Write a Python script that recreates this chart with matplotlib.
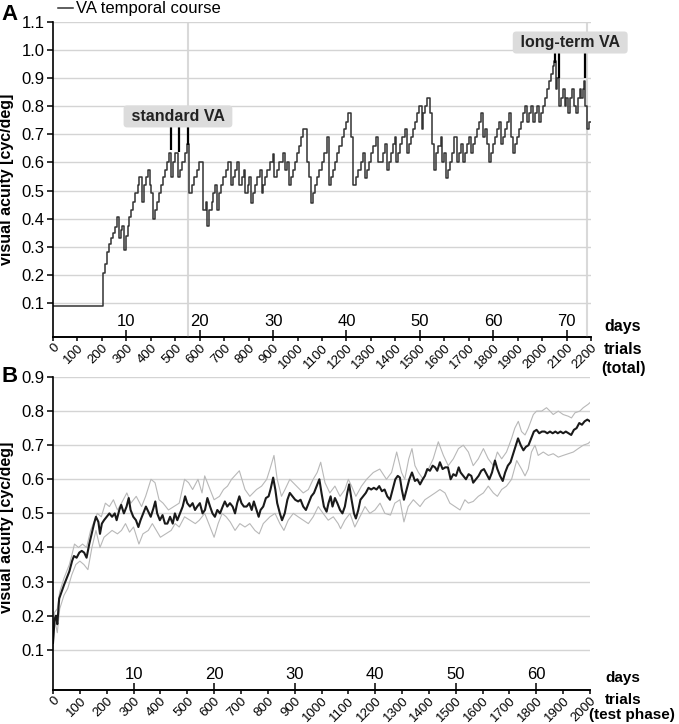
import matplotlib
matplotlib.use("Agg")
import matplotlib.pyplot as plt
from matplotlib.lines import Line2D

plt.rcParams['font.family'] = ['Liberation Sans', 'DejaVu Sans']

# ---- panel A: single animal, staircase VA over all trials ----
course_trials = [0, 203, 213, 220, 228, 236, 244, 254, 262, 270, 277, 284, 292, 299, 306, 312,
                 320, 329, 337, 346, 353, 364, 372, 382, 390, 397, 401, 408, 419, 427, 435, 443,
                 451, 460, 466, 473, 484, 491, 500, 511, 519, 528, 539, 547, 558, 569, 577, 588,
                 597, 612, 624, 631, 639, 649, 656, 664, 672, 680, 688, 697, 706, 714, 728, 735,
                 738, 744, 754, 762, 772, 779, 787, 796, 802, 811, 819, 828, 836, 847, 853, 860,
                 868, 877, 888, 898, 905, 915, 923, 939, 949, 956, 964, 972, 980, 990, 997, 1006,
                 1014, 1024, 1037, 1048, 1057, 1065, 1073, 1081, 1089, 1099, 1108, 1119, 1127, 1136,
                 1144, 1152, 1160, 1171, 1181, 1190, 1198, 1208, 1217, 1226, 1237, 1249, 1258, 1266,
                 1275, 1286, 1294, 1302, 1310, 1321, 1329, 1348, 1356, 1365, 1373, 1381, 1389, 1397,
                 1403, 1411, 1419, 1427, 1438, 1446, 1455, 1463, 1474, 1482, 1490, 1498, 1508, 1515,
                 1523, 1531, 1542, 1549, 1558, 1566, 1576, 1585, 1592, 1600, 1607, 1615, 1624, 1632,
                 1640, 1651, 1659, 1667, 1675, 1684, 1692, 1700, 1708, 1716, 1724, 1733, 1741, 1749,
                 1757, 1765, 1776, 1784, 1793, 1801, 1809, 1817, 1825, 1831, 1839, 1847, 1855, 1863,
                 1872, 1880, 1891, 1899, 1907, 1915, 1923, 1932, 1940, 1948, 1956, 1964, 1973, 1981,
                 1986, 1994, 2002, 2011, 2019, 2027, 2035, 2043, 2050, 2057, 2062, 2068, 2076, 2084,
                 2092, 2098, 2106, 2114, 2122, 2131, 2139, 2147, 2155, 2161, 2166, 2172, 2177, 2182,
                 2193, 2200]
course_va = [0.088, 0.205, 0.24, 0.28, 0.31, 0.33, 0.35, 0.37, 0.405, 0.33, 0.36, 0.375, 0.29, 0.34, 0.375, 0.405,
             0.43, 0.46, 0.49, 0.52, 0.55, 0.46, 0.52, 0.55, 0.575, 0.52, 0.49, 0.40, 0.43, 0.46, 0.49, 0.52,
             0.55, 0.575, 0.60, 0.635, 0.55, 0.60, 0.635, 0.55, 0.575, 0.60, 0.635, 0.665, 0.49, 0.52, 0.55, 0.575,
             0.60, 0.43, 0.46, 0.375, 0.43, 0.46, 0.49, 0.52, 0.43, 0.49, 0.52, 0.55, 0.575, 0.60, 0.52, 0.55,
             0.55, 0.575, 0.60, 0.52, 0.55, 0.575, 0.49, 0.52, 0.55, 0.455, 0.49, 0.52, 0.55, 0.575, 0.49, 0.52,
             0.55, 0.575, 0.60, 0.63, 0.55, 0.575, 0.60, 0.635, 0.575, 0.60, 0.52, 0.55, 0.575, 0.60, 0.635, 0.66,
             0.69, 0.72, 0.60, 0.55, 0.455, 0.49, 0.52, 0.55, 0.575, 0.60, 0.635, 0.69, 0.52, 0.55,
             0.575, 0.60, 0.635, 0.66, 0.69, 0.72, 0.745, 0.775, 0.69, 0.52, 0.55, 0.575, 0.60, 0.635,
             0.545, 0.575, 0.60, 0.635, 0.66, 0.69, 0.60, 0.635, 0.665, 0.575, 0.60, 0.635, 0.665, 0.69,
             0.60, 0.635, 0.665, 0.69, 0.72, 0.635, 0.665, 0.69, 0.72, 0.745, 0.775, 0.80, 0.72, 0.775,
             0.80, 0.83, 0.775, 0.665, 0.575, 0.635, 0.66, 0.69, 0.60, 0.635, 0.545, 0.575, 0.60, 0.635,
             0.69, 0.60, 0.635, 0.665, 0.60, 0.635, 0.665, 0.69, 0.635, 0.665, 0.69, 0.72, 0.745, 0.775,
             0.69, 0.72, 0.665, 0.60, 0.635, 0.665, 0.69, 0.72, 0.745, 0.665, 0.69, 0.72, 0.745, 0.775,
             0.69, 0.635, 0.665, 0.69, 0.72, 0.745, 0.775, 0.80, 0.745, 0.775, 0.80, 0.745, 0.775, 0.80,
             0.745, 0.775, 0.80, 0.83, 0.86, 0.89, 0.915, 0.945, 0.96, 0.86, 0.90, 0.80, 0.83, 0.86,
             0.80, 0.83, 0.775, 0.83, 0.86, 0.80, 0.775, 0.83, 0.86, 0.83, 0.86, 0.89, 0.80, 0.72,
             0.745, 0.745]

marker_trials = [552, 2184]
standard_va_trials = [482, 514, 553]
standard_va_vals = [0.643, 0.636, 0.663]
standard_box = (511, 0.764, 0.726)      # x, label y, box bottom
longterm_va_trials = [2053, 2068, 2174]
longterm_va_vals = [0.955, 0.90, 0.90]
longterm_box = (2115, 1.027, 0.99)

# ---- panel B: group course over test-phase trials ----
mean_trials = [0, 6, 11, 16, 23, 32, 41, 51, 61, 71, 78, 88, 98, 107, 116, 125, 135, 144, 153, 160,
               169, 175, 182, 190, 200, 210, 220, 230, 237, 247, 254, 264, 274, 282, 289, 299, 309, 318,
               326, 336, 346, 355, 364, 374, 381, 388, 398, 408, 417, 426, 436, 446, 454, 463, 473, 483,
               492, 500, 510, 520, 529, 537, 547, 557, 566, 575, 585, 594, 603, 612, 622, 632, 640, 649,
               659, 669, 678, 686, 694, 702, 711, 721, 731, 740, 748, 758, 766, 773, 783, 793, 803, 810,
               820, 828, 835, 845, 853, 863, 873, 882, 892, 902, 913, 922, 932, 942, 952, 962, 972, 982,
               992, 1000, 1009, 1019, 1026, 1034, 1041, 1050, 1059, 1069, 1078, 1087, 1096, 1103, 1112,
               1121, 1128, 1137, 1145, 1155, 1165, 1175, 1185, 1195, 1205, 1215, 1225, 1235, 1245, 1255,
               1265, 1275, 1284, 1292, 1299, 1307, 1317, 1327, 1337, 1348, 1357, 1367, 1377, 1385, 1394,
               1404, 1414, 1423, 1431, 1441, 1451, 1461, 1471, 1481, 1491, 1501, 1511, 1518, 1528, 1538,
               1548, 1558, 1565, 1575, 1585, 1595, 1605, 1615, 1625, 1635, 1646, 1655, 1665, 1675, 1684,
               1694, 1704, 1714, 1724, 1732, 1742, 1752, 1761, 1771, 1781, 1791, 1801, 1811, 1821, 1831,
               1841, 1851, 1861, 1871, 1880, 1890, 1900, 1910, 1920, 1930, 1940, 1950, 1960, 1970, 1980,
               1990, 2000]
mean_va = [0.12, 0.19, 0.20, 0.175, 0.25, 0.27, 0.29, 0.31, 0.33, 0.36, 0.375, 0.37, 0.385, 0.39, 0.385, 0.37, 0.41, 0.44, 0.47, 0.49,
           0.475, 0.44, 0.47, 0.48, 0.49, 0.50, 0.49, 0.50, 0.48, 0.51, 0.525, 0.50, 0.52, 0.545, 0.51, 0.49, 0.48, 0.46,
           0.48, 0.50, 0.52, 0.505, 0.49, 0.515, 0.535, 0.50, 0.48, 0.495, 0.47, 0.47, 0.49, 0.47, 0.50, 0.48, 0.50, 0.52,
           0.55, 0.53, 0.52, 0.53, 0.51, 0.52, 0.53, 0.50, 0.51, 0.545, 0.52, 0.50, 0.49, 0.51, 0.50, 0.52, 0.535, 0.52,
           0.53, 0.52, 0.50, 0.53, 0.55, 0.53, 0.52, 0.52, 0.53, 0.51, 0.535, 0.51, 0.49, 0.51, 0.52, 0.545, 0.55, 0.57,
           0.605, 0.57, 0.53, 0.50, 0.48, 0.50, 0.54, 0.56, 0.55, 0.54, 0.535, 0.54, 0.52, 0.51, 0.53, 0.55, 0.56, 0.58,
           0.60, 0.56, 0.52, 0.505, 0.53, 0.55, 0.52, 0.545, 0.53, 0.51, 0.50, 0.52, 0.56, 0.585, 0.54,
           0.50, 0.485, 0.51, 0.54, 0.55, 0.56, 0.575, 0.57, 0.575, 0.57, 0.58, 0.565, 0.57, 0.55, 0.54,
           0.57, 0.60, 0.61, 0.605, 0.57, 0.54, 0.57, 0.60, 0.62, 0.595, 0.60, 0.585, 0.60, 0.61, 0.63,
           0.625, 0.64, 0.635, 0.625, 0.65, 0.63, 0.635, 0.635, 0.60, 0.615, 0.61, 0.635, 0.62, 0.61, 0.60,
           0.615, 0.61, 0.59, 0.60, 0.61, 0.625, 0.63, 0.615, 0.60, 0.62, 0.655, 0.63, 0.61, 0.595, 0.62,
           0.64, 0.65, 0.675, 0.70, 0.72, 0.70, 0.685, 0.695, 0.70, 0.72, 0.74, 0.745, 0.735, 0.74, 0.74,
           0.735, 0.74, 0.735, 0.74, 0.735, 0.74, 0.735, 0.74, 0.735, 0.73, 0.745, 0.75, 0.765, 0.76, 0.77,
           0.775, 0.77]

upper_trials = [0, 6, 16, 25, 41, 61, 71, 80, 95, 110, 125, 140, 155, 165, 180, 195, 210, 225, 240, 255,
                275, 290, 310, 330, 345, 365, 380, 395, 410, 430, 450, 470, 490, 505, 520, 540, 555, 565,
                585, 600, 620, 635, 650, 665, 694, 715, 733, 758, 777, 796, 808, 823, 835, 851, 864, 882,
                907, 932, 951, 969, 984, 997, 1013, 1031, 1050, 1069, 1087, 1100, 1112, 1128, 1149, 1168,
                1193, 1217, 1242, 1261, 1280, 1298, 1310, 1325, 1337, 1348, 1361, 1379, 1398, 1416, 1435,
                1454, 1472, 1491, 1510, 1528, 1547, 1565, 1584, 1603, 1621, 1640, 1655, 1671, 1689, 1708,
                1720, 1733, 1745, 1758, 1770, 1789, 1801, 1820, 1838, 1851, 1863, 1882, 1900, 1919, 1931,
                1944, 1962, 1975, 1993, 2000]
upper_va = [0.15, 0.21, 0.22, 0.27, 0.31, 0.35, 0.38, 0.41, 0.40, 0.41, 0.40, 0.45, 0.48, 0.50, 0.49, 0.53, 0.52, 0.54, 0.51, 0.53,
            0.56, 0.53, 0.55, 0.52, 0.55, 0.60, 0.59, 0.54, 0.53, 0.51, 0.52, 0.53, 0.60, 0.59, 0.57, 0.60, 0.56, 0.61,
            0.57, 0.54, 0.55, 0.57, 0.58, 0.60, 0.625, 0.57, 0.55, 0.57, 0.58, 0.60, 0.63, 0.67, 0.60, 0.55, 0.57, 0.60,
            0.58, 0.56, 0.57, 0.60, 0.62, 0.65, 0.59, 0.56, 0.58, 0.55, 0.57, 0.60, 0.58, 0.55, 0.58, 0.60,
            0.62, 0.63, 0.60, 0.62, 0.68, 0.62, 0.60, 0.66, 0.69, 0.64, 0.62, 0.60, 0.63, 0.66, 0.71,
            0.67, 0.64, 0.66, 0.69, 0.70, 0.68, 0.64, 0.66, 0.69, 0.66, 0.64, 0.68, 0.66, 0.68, 0.72,
            0.75, 0.77, 0.74, 0.73, 0.75, 0.79, 0.80, 0.80, 0.81, 0.80, 0.79, 0.80, 0.79, 0.785, 0.78,
            0.795, 0.80, 0.81, 0.82, 0.825]

lower_trials = [0, 6, 16, 25, 41, 55, 70, 85, 100, 115, 130, 145, 160, 175, 190, 205, 220, 240, 255, 270,
                285, 300, 320, 335, 355, 370, 385, 400, 420, 440, 455, 470, 490, 510, 530, 545, 565, 580,
                600, 615, 630, 645, 660, 678, 696, 715, 733, 752, 768, 783, 808, 827, 845, 860, 876, 895,
                913, 932, 951, 969, 988, 1006, 1025, 1044, 1062, 1071, 1087, 1106, 1124, 1143, 1162, 1180,
                1199, 1218, 1236, 1257, 1273, 1292, 1307, 1323, 1342, 1367, 1385, 1404, 1423, 1441, 1460,
                1478, 1497, 1516, 1534, 1547, 1565, 1584, 1603, 1621, 1640, 1655, 1671, 1689, 1708, 1727,
                1745, 1758, 1770, 1782, 1795, 1807, 1826, 1845, 1863, 1882, 1900, 1919, 1938, 1956, 1975,
                1993, 2000]
lower_va = [0.10, 0.19, 0.15, 0.22, 0.26, 0.28, 0.32, 0.35, 0.36, 0.35, 0.335, 0.40, 0.45, 0.40, 0.43, 0.44, 0.45, 0.44, 0.45, 0.47,
            0.445, 0.46, 0.41, 0.44, 0.45, 0.47, 0.45, 0.43, 0.44, 0.45, 0.47, 0.46, 0.49, 0.48, 0.47, 0.48, 0.50, 0.47,
            0.43, 0.47, 0.50, 0.49, 0.475, 0.45, 0.47, 0.46, 0.47, 0.45, 0.44, 0.47, 0.49, 0.50, 0.47, 0.45, 0.48, 0.50,
            0.49, 0.48, 0.47, 0.49, 0.52, 0.50, 0.48, 0.49, 0.47, 0.455, 0.48, 0.50, 0.46, 0.49, 0.52, 0.50,
            0.51, 0.53, 0.50, 0.495, 0.53, 0.54, 0.475, 0.52, 0.54, 0.52, 0.54, 0.55, 0.56, 0.57, 0.56,
            0.53, 0.52, 0.51, 0.54, 0.53, 0.535, 0.55, 0.56, 0.58, 0.56, 0.55, 0.57, 0.58, 0.60, 0.655,
            0.63, 0.61, 0.63, 0.68, 0.70, 0.67, 0.68, 0.67, 0.675, 0.665, 0.67, 0.675, 0.68, 0.69, 0.70,
            0.705, 0.71]

TRIALS_PER_DAY = 30
days_a = [10, 20, 30, 40, 50, 60, 70]
days_b = [10, 20, 30, 40, 50, 60]
trial_ticks_a = list(range(0, 2201, 100))
trial_ticks_b = list(range(0, 2001, 100))
yticks_a = [0.1, 0.2, 0.3, 0.4, 0.5, 0.6, 0.7, 0.8, 0.9, 1.0, 1.1]
yticks_b = [0.1, 0.2, 0.3, 0.4, 0.5, 0.6, 0.7, 0.8, 0.9]

W, H = 679, 724
fig = plt.figure(figsize=(W / 100, H / 100), dpi=100)
axA = fig.add_axes([53 / W, 1 - 337 / H, 538 / W, 315 / H])
axB = fig.add_axes([53 / W, 1 - 690 / H, 537 / W, 313 / H])


def style(ax, xmax, ylim, yticks, trial_ticks, day_ticks):
    ax.set_xlim(0, xmax)
    ax.set_ylim(*ylim)
    ax.set_yticks(yticks)
    ax.set_yticklabels([f"{v:.1f}" for v in yticks])
    ax.grid(axis='y', color='#d4d4d4', lw=1)
    ax.set_axisbelow(True)
    for s in ['top', 'right']:
        ax.spines[s].set_visible(False)
    for s in ['left', 'bottom']:
        ax.spines[s].set_linewidth(1.2)
    ax.set_xticks(trial_ticks)
    ax.set_xticklabels([str(t) for t in trial_ticks], rotation=45, ha='right',
                       rotation_mode='anchor')
    ax.tick_params(axis='x', direction='out', length=3, width=1.1, labelsize=9.5, pad=0.5)
    ax.tick_params(axis='y', direction='out', length=4, width=1.1, labelsize=12, pad=2)
    sec = ax.secondary_xaxis(0, functions=(lambda t: t / TRIALS_PER_DAY,
                                           lambda d: d * TRIALS_PER_DAY))
    sec.set_alignment('top')
    sec.set_xticks(day_ticks)
    sec.spines['top'].set_linewidth(1.2)
    sec.tick_params(direction='out', length=5, width=1.1, labelsize=12, pad=1)
    ax.set_ylabel('visual acuity [cyc/deg]', fontweight='bold', fontsize=11.5)


# panel A
style(axA, 2200, (-0.021, 1.1), yticks_a, trial_ticks_a, days_a)
axA.yaxis.set_label_coords(-0.0734, 0.5)
for t in marker_trials:
    axA.axvline(t, color='#d9d9d9', lw=1.5, zorder=0.5)
axA.plot(course_trials, course_va, drawstyle='steps-post', color='#333333', lw=1.1)
axA.vlines(standard_va_trials, standard_va_vals, standard_box[2], color='black', lw=1.6)
axA.vlines(longterm_va_trials, longterm_va_vals, longterm_box[2], color='black', lw=1.6)
box = dict(boxstyle='round,pad=0.22', fc='#dcdcdc', ec='none')
axA.text(standard_box[0], standard_box[1], ' standard VA ', ha='center', va='center',
         fontsize=11.5, fontweight='bold', color='#222222', bbox=box, clip_on=False)
axA.text(longterm_box[0], longterm_box[1], ' long-term VA ', ha='center', va='center',
         fontsize=11.5, fontweight='bold', color='#222222', bbox=box, clip_on=False)

# panel B
style(axB, 2000, (-0.018, 0.9), yticks_b, trial_ticks_b, days_b)
axB.yaxis.set_label_coords(-0.0734, 0.52)
axB.plot(upper_trials, upper_va, color='#b8b8b8', lw=0.8)
axB.plot(lower_trials, lower_va, color='#b8b8b8', lw=0.8)
axB.plot(mean_trials, mean_va, color='#1a1a1a', lw=1.5)

# legend and side labels
fig.legend(handles=[Line2D([], [], color='#333333', lw=1.1)], labels=['VA temporal course'],
           loc='center left', bbox_to_anchor=(58 / W, 1 - 9 / H), frameon=False,
           handlelength=0.9, handletextpad=0.2, borderpad=0, borderaxespad=0, fontsize=12)
fig.text(10 / W, 1 - 15 / H, 'A', fontsize=16, fontweight='bold', ha='center', va='center')
fig.text(10 / W, 1 - 377 / H, 'B', fontsize=16, fontweight='bold', ha='center', va='center')
for txt, y in [('days', 327), ('trials', 350), ('(total)', 368)]:
    fig.text(623 / W, 1 - y / H, txt, fontsize=11.5, fontweight='bold', ha='center', va='center')
for txt, x, y in [('days', 623, 678), ('trials', 623, 700), ('(test phase)', 632, 715)]:
    fig.text(x / W, 1 - y / H, txt, fontsize=11, fontweight='bold', ha='center', va='center')

fig.savefig('out.png', dpi=100)
